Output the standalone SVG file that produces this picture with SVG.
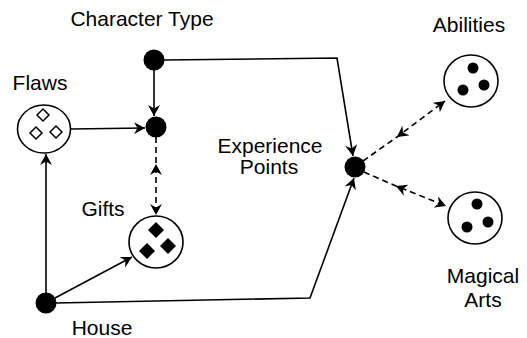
<svg xmlns="http://www.w3.org/2000/svg" width="527" height="338" viewBox="0 0 527 338">
<style>
text{font-family:"Liberation Sans",Arial,sans-serif;font-size:21px;fill:#000;text-anchor:middle}
.dot{fill:#000}
.ring{fill:#fff;stroke:#000;stroke-width:1.6}
.hd{fill:#fff;stroke:#000;stroke-width:1.5}
.fd{fill:#000}
.ln{fill:none;stroke:#000;stroke-width:1.6}
.ds{fill:none;stroke:#000;stroke-width:1.6;stroke-dasharray:6 4}
</style>
<defs>
<marker id="arr" markerUnits="userSpaceOnUse" markerWidth="12" markerHeight="12" refX="11" refY="6" orient="auto" viewBox="0 0 12 12">
<path d="M0,0 L11,6 L0,12 L3.5,6 z" fill="#000"/>
</marker>
<marker id="rev" markerUnits="userSpaceOnUse" markerWidth="12" markerHeight="12" refX="1" refY="6" orient="auto" viewBox="0 0 12 12">
<path d="M12,0 L1,6 L12,12 L8.5,6 z" fill="#000"/>
</marker>
</defs>
<g id="connectors">
<path class="ln" d="M154,70 L154,116" marker-end="url(#arr)"/>
<path class="ln" d="M71,129 L145,128" marker-end="url(#arr)"/>
<path class="ln" d="M164,60 L337,58 L353,156" marker-end="url(#arr)"/>
<path class="ln" d="M46,293 L46,154" marker-end="url(#arr)"/>
<path class="ln" d="M55,298 L132,257" marker-end="url(#arr)"/>
<path class="ln" d="M56,303 L310,298 L354,178" marker-end="url(#arr)"/>
<path class="ds" d="M156,137 L156,164 L156,215" marker-mid="url(#rev)" marker-end="url(#arr)"/>
<path class="ds" d="M363,161 L397,137 L445,101" marker-mid="url(#rev)" marker-end="url(#arr)"/>
<path class="ds" d="M364,172 L396,186 L446,206" marker-mid="url(#rev)" marker-end="url(#arr)"/>
</g>
<g id="character-type">
<circle class="dot" cx="154" cy="60" r="10.5"/>
<text x="142" y="26">Character Type</text>
</g>
<g id="combine">
<circle class="dot" cx="156" cy="127" r="10.5"/>
</g>
<g id="flaws">
<ellipse class="ring" cx="44" cy="129" rx="26.5" ry="24"/>
<path class="hd" d="M43,109 L49,115 L43,121 L37,115 z"/>
<path class="hd" d="M36,127 L42,133 L36,139 L30,133 z"/>
<path class="hd" d="M56,126 L62,132 L56,138 L50,132 z"/>
<text x="40" y="90">Flaws</text>
</g>
<g id="gifts">
<ellipse class="ring" cx="156" cy="242" rx="27" ry="26"/>
<path class="fd" d="M156,222 L164,230 L156,238 L148,230 z"/>
<path class="fd" d="M147,243 L155,251 L147,259 L139,251 z"/>
<path class="fd" d="M168,238 L176,246 L168,254 L160,246 z"/>
<text x="103" y="216">Gifts</text>
</g>
<g id="house">
<circle class="dot" cx="46" cy="303" r="10.5"/>
<text x="102" y="335">House</text>
</g>
<g id="experience-points">
<circle class="dot" cx="355" cy="167" r="10.5"/>
<text x="270" y="153">Experience</text>
<text x="269" y="174">Points</text>
</g>
<g id="abilities">
<ellipse class="ring" cx="471" cy="81" rx="27" ry="26"/>
<circle class="dot" cx="473" cy="68" r="5.5"/>
<circle class="dot" cx="463" cy="90" r="5.5"/>
<circle class="dot" cx="484" cy="85" r="5.5"/>
<text x="469" y="32">Abilities</text>
</g>
<g id="magical-arts">
<ellipse class="ring" cx="475" cy="218" rx="27" ry="26"/>
<circle class="dot" cx="477" cy="204" r="5.5"/>
<circle class="dot" cx="467" cy="227" r="5.5"/>
<circle class="dot" cx="488" cy="222" r="5.5"/>
<text x="483" y="283">Magical</text>
<text x="483" y="307">Arts</text>
</g>
</svg>
